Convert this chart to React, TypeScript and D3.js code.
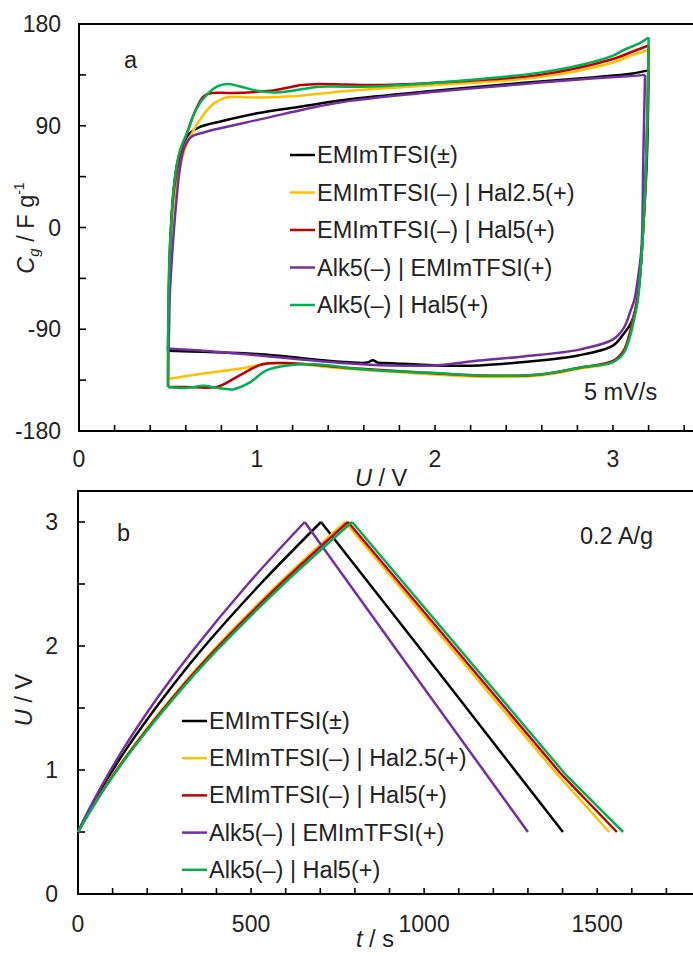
import React from "react";
import * as d3 from "d3";

// ---------- Data ----------
const seriesNames = [
  "EMImTFSI(±)",
  "EMImTFSI(–) | Hal2.5(+)",
  "EMImTFSI(–) | Hal5(+)",
  "Alk5(–) | EMImTFSI(+)",
  "Alk5(–) | Hal5(+)",
];
const seriesColors = ["#000000", "#FFC000", "#C00000", "#7030A0", "#00B050"];

// Panel a: cyclic voltammograms [U (V), Cg (F/g)] — anodic (up) and cathodic (down) branches
const cvBlackUp: [number, number][] = [
  [0.5, -109], [0.505, -60], [0.515, -10], [0.53, 30], [0.55, 55], [0.58, 72], [0.62, 83], [0.68, 89],
  [0.8, 94], [1.0, 101], [1.25, 107], [1.5, 113], [2.0, 121], [2.5, 128], [2.9, 133], [3.1, 136], [3.2, 139],
];
const cvBlackDown: [number, number][] = [
  [3.2, 139], [3.19, 60], [3.17, 0], [3.15, -45], [3.13, -70], [3.1, -85], [3.06, -94], [3.0, -104.5], [2.81, -113],
  [2.5, -119], [2.25, -122], [2.0, -122], [1.75, -120], [1.68, -119.5], [1.65, -117.5], [1.62, -119.5],
  [1.5, -119], [1.0, -112], [0.7, -110], [0.5, -109],
];
const cvOrangeUp: [number, number][] = [
  [0.5, -134], [0.505, -60], [0.515, -15], [0.54, 30], [0.58, 62], [0.63, 82], [0.7, 100], [0.76, 110],
  [0.83, 115], [1.0, 115], [1.2, 116], [1.52, 121], [2.0, 126], [2.59, 133], [3.0, 146], [3.1, 152], [3.2, 157],
];
const cvOrangeDown: [number, number][] = [
  [3.2, 157], [3.19, 80], [3.17, 0], [3.14, -60], [3.1, -90], [3.06, -109], [3.0, -119], [2.81, -125], [2.59, -131],
  [2.25, -132], [2.0, -130], [1.7, -127], [1.5, -125], [1.09, -120], [0.9, -125], [0.68, -129.5], [0.5, -134],
];
const cvRedUp: [number, number][] = [
  [0.5, -141], [0.505, -60], [0.51, -20], [0.535, 35], [0.57, 65], [0.61, 85], [0.65, 102], [0.7, 116],
  [0.75, 119], [0.85, 119], [1.0, 120], [1.1, 121.5], [1.25, 126], [1.35, 127], [1.5, 126.5], [1.7, 126],
  [2.0, 128], [2.59, 135], [3.0, 149], [3.1, 155], [3.2, 161],
];
const cvRedDown: [number, number][] = [
  [3.2, 161], [3.19, 80], [3.17, 0], [3.14, -60], [3.1, -90], [3.06, -109], [3.0, -118], [2.81, -124], [2.59, -130],
  [2.25, -131], [2.0, -129], [1.7, -126], [1.5, -124], [1.19, -120], [1.03, -121], [0.9, -131],
  [0.775, -141], [0.6, -141], [0.5, -141],
];
const cvPurpleUp: [number, number][] = [
  [0.5, -107], [0.505, -95], [0.51, -60], [0.525, -20], [0.545, 20], [0.565, 50], [0.59, 70], [0.63, 80],
  [0.7, 84], [0.8, 88], [1.0, 95], [1.25, 104], [1.52, 112], [2.0, 120], [2.5, 127], [2.9, 132], [3.1, 134],
  [3.18, 135],
];
const cvPurpleDown: [number, number][] = [
  [3.18, 135], [3.17, 60], [3.16, -18], [3.14, -45], [3.12, -64], [3.1, -73], [3.06, -89], [3.0, -99],
  [2.81, -108], [2.5, -114], [2.25, -117.7], [2.0, -122], [1.75, -122], [1.5, -120], [1.0, -113],
  [0.7, -109], [0.5, -107],
];
const cvGreenUp: [number, number][] = [
  [0.5, -141], [0.5, -100], [0.503, -60], [0.51, -20], [0.535, 39], [0.567, 68], [0.61, 85], [0.66, 105],
  [0.72, 118], [0.78, 125], [0.83, 127], [0.9, 125], [1.0, 121], [1.1, 119.5], [1.2, 121], [1.35, 124.5],
  [1.5, 124.5], [1.7, 125], [2.0, 128], [2.3, 132], [2.59, 137], [2.8, 143], [3.0, 152], [3.06, 157],
  [3.15, 163], [3.2, 168],
];
const cvGreenDown: [number, number][] = [
  [3.2, 168], [3.19, 80], [3.17, 0], [3.14, -64], [3.12, -80], [3.1, -94], [3.06, -111],
  [3.0, -119], [2.81, -124], [2.59, -130], [2.25, -131], [2.03, -129], [1.69, -126.5], [1.56, -125],
  [1.32, -121], [1.17, -122], [1.05, -126.5], [0.96, -137], [0.87, -143], [0.78, -142], [0.7, -140],
  [0.6, -142], [0.5, -141],
];
const cvUp = [cvBlackUp, cvOrangeUp, cvRedUp, cvPurpleUp, cvGreenUp];
const cvDown = [cvBlackDown, cvOrangeDown, cvRedDown, cvPurpleDown, cvGreenDown];

// Panel b: galvanostatic charge / discharge [t (s), U (V)]
const gcdBlackCharge: [number, number][] = [[0, 0.5], [28, 0.65], [70, 0.86], [140, 1.17], [246, 1.58], [351, 1.95], [527, 2.5], [702, 3.0]];
const gcdBlackDischarge: [number, number][] = [[702, 3.0], [1050, 1.76], [1401, 0.5]];
const gcdOrangeCharge: [number, number][] = [[0, 0.5], [31, 0.65], [77, 0.86], [154, 1.17], [270, 1.58], [386, 1.95], [579, 2.5], [772, 3.0]];
const gcdOrangeDischarge: [number, number][] = [[772, 3.0], [1380, 0.98], [1535, 0.5]];
const gcdRedCharge: [number, number][] = [[0, 0.5], [31, 0.65], [78, 0.86], [156, 1.17], [273, 1.58], [390, 1.95], [585, 2.5], [780, 3.0]];
const gcdRedDischarge: [number, number][] = [[780, 3.0], [1395, 0.97], [1557, 0.5]];
const gcdPurpleCharge: [number, number][] = [[0, 0.5], [26, 0.65], [66, 0.86], [131, 1.17], [229, 1.58], [328, 1.95], [491, 2.5], [655, 3.0]];
const gcdPurpleDischarge: [number, number][] = [[655, 3.0], [1000, 1.66], [1300, 0.5]];
const gcdGreenCharge: [number, number][] = [[0, 0.5], [32, 0.65], [79, 0.86], [158, 1.17], [277, 1.58], [396, 1.95], [594, 2.5], [792, 3.0]];
const gcdGreenDischarge: [number, number][] = [[792, 3.0], [1410, 0.96], [1575, 0.5]];
const gcdCharge = [gcdBlackCharge, gcdOrangeCharge, gcdRedCharge, gcdPurpleCharge, gcdGreenCharge];
const gcdDischarge = [gcdBlackDischarge, gcdOrangeDischarge, gcdRedDischarge, gcdPurpleDischarge, gcdGreenDischarge];

const cvXTicks = [0, 1, 2, 3];
const cvYTicks = [-180, -90, 0, 90, 180];
const gcdXTicks = [0, 500, 1000, 1500];
const gcdYTicks = [0, 1, 2, 3];

// ---------- Layout ----------
const W = 693;
const H = 956;
const FONT = "'Liberation Sans', Arial, Helvetica, sans-serif";
const TICK_FS = 23;
const TEXT_FS = 23.5;
const drawOrder = [0, 1, 2, 3, 4];

const xA = d3.scaleLinear().domain([0, 3.5]).range([79, 702]);
const yA = d3.scaleLinear().domain([-180, 180]).range([431, 24]);
const xB = d3.scaleLinear().domain([0, 1800]).range([78, 701]);
const yB = d3.scaleLinear().domain([0, 3.25]).range([894, 491]);

function Axes({ x, y, xMinor, yMinor, xMajor, yMajor, xLabelY, yLabelX }: any) {
  const [x0, x1] = x.range();
  const [y0, y1] = y.range();
  return (
    <g>
      <rect x={x0} y={y1} width={x1 - x0} height={y0 - y1} fill="none" stroke="#000" strokeWidth={2} />
      {xMinor.map((v: number, i: number) => (
        <line key={"xm" + i} x1={x(v)} x2={x(v)} y1={y0} y2={y0 - 6} stroke="#000" strokeWidth={1.6} />
      ))}
      {yMinor.map((v: number, i: number) => (
        <line key={"ym" + i} x1={x0} x2={x0 + 7} y1={y(v)} y2={y(v)} stroke="#000" strokeWidth={1.6} />
      ))}
      {xMajor.map((v: number, i: number) => (
        <text key={"xl" + i} x={x(v)} y={xLabelY} textAnchor="middle" fontSize={TICK_FS} fontFamily={FONT} fill="#222">
          {v}
        </text>
      ))}
      {yMajor.map((v: number, i: number) => (
        <text key={"yl" + i} x={yLabelX} y={y(v)} textAnchor="end" dominantBaseline="central" fontSize={TICK_FS} fontFamily={FONT} fill="#222">
          {v}
        </text>
      ))}
    </g>
  );
}

function Legend({ x, y0, dy }: { x: number; y0: number; dy: number }) {
  return (
    <g>
      {seriesNames.map((n, i) => (
        <g key={n}>
          <line x1={x} x2={x + 25} y1={y0 + i * dy} y2={y0 + i * dy} stroke={seriesColors[i]} strokeWidth={2.5} />
          <text x={x + 27} y={y0 + i * dy} dominantBaseline="central" fontSize={TEXT_FS} fontFamily={FONT} fill="#222">
            {n}
          </text>
        </g>
      ))}
    </g>
  );
}

export default function App() {
  const cvLine = d3
    .line<[number, number]>()
    .x((d) => xA(d[0]))
    .y((d) => yA(d[1]))
    .curve(d3.curveCatmullRom.alpha(0.5));
  const chLine = d3
    .line<[number, number]>()
    .x((d) => xB(d[0]))
    .y((d) => yB(d[1]))
    .curve(d3.curveCatmullRom.alpha(0.5));
  const disLine = d3
    .line<[number, number]>()
    .x((d) => xB(d[0]))
    .y((d) => yB(d[1]));

  const cvXMinor = d3.range(0, 3.5001, 0.2).map((v) => +v.toFixed(2));
  const cvYMinor = d3.range(-180, 180.001, 45);
  const gcdXMinor = d3.range(0, 1800.001, 100);
  const gcdYMinor = d3.range(0, 3.2501, 0.5);

  return (
    <svg
      width={W}
      height={H}
      viewBox={`0 0 ${W} ${H}`}
      style={{ position: "absolute", left: 0, top: 0, background: "#fff" }}
    >
      <rect x={0} y={0} width={W} height={H} fill="#fff" />
      {/* Panel a */}
      <Axes x={xA} y={yA} xMinor={cvXMinor} yMinor={cvYMinor} xMajor={cvXTicks} yMajor={cvYTicks} xLabelY={466.5} yLabelX={61} />
      {drawOrder.map((i) => (
        <g key={"cv" + i}>
          <path d={cvLine(cvUp[i]) || ""} fill="none" stroke={seriesColors[i]} strokeWidth={2.5} strokeLinejoin="round" />
          <path d={cvLine(cvDown[i]) || ""} fill="none" stroke={seriesColors[i]} strokeWidth={2.5} strokeLinejoin="round" />
        </g>
      ))}
      <text x={124} y={68} fontSize={TEXT_FS} fontFamily={FONT} fill="#222">a</text>
      <text x={584} y={400} fontSize={TEXT_FS} fontFamily={FONT} fill="#222">5 mV/s</text>
      <Legend x={290} y0={155} dy={37.5} />
      <text x={381} y={486} textAnchor="middle" fontSize={TEXT_FS} fontFamily={FONT} fill="#222">
        <tspan fontStyle="italic">U</tspan> / V
      </text>
      <text transform="translate(34,228) rotate(-90)" textAnchor="middle" fontSize={TEXT_FS} fontFamily={FONT} fill="#222">
        <tspan fontStyle="italic">C</tspan>
        <tspan fontStyle="italic" fontSize={15} dy={5}>g</tspan>
        <tspan dy={-5}> / F g</tspan>
        <tspan fontSize={14} dy={-10}>-1</tspan>
      </text>

      {/* Panel b */}
      <Axes x={xB} y={yB} xMinor={gcdXMinor} yMinor={gcdYMinor} xMajor={gcdXTicks} yMajor={gcdYTicks} xLabelY={931.5} yLabelX={58} />
      {drawOrder.map((i) => (
        <g key={"gcd" + i}>
          <path d={chLine(gcdCharge[i]) || ""} fill="none" stroke={seriesColors[i]} strokeWidth={2.5} />
          <path d={disLine(gcdDischarge[i]) || ""} fill="none" stroke={seriesColors[i]} strokeWidth={2.5} />
        </g>
      ))}
      <text x={117} y={541} fontSize={TEXT_FS} fontFamily={FONT} fill="#222">b</text>
      <text x={580} y={544} fontSize={TEXT_FS} fontFamily={FONT} fill="#222">0.2 A/g</text>
      <Legend x={182} y0={721} dy={37.2} />
      <text x={375} y={947} textAnchor="middle" fontSize={TEXT_FS} fontFamily={FONT} fill="#222">
        <tspan fontStyle="italic">t</tspan> / s
      </text>
      <text transform="translate(32,700) rotate(-90)" textAnchor="middle" fontSize={TEXT_FS} fontFamily={FONT} fill="#222">
        <tspan fontStyle="italic">U</tspan> / V
      </text>
    </svg>
  );
}
